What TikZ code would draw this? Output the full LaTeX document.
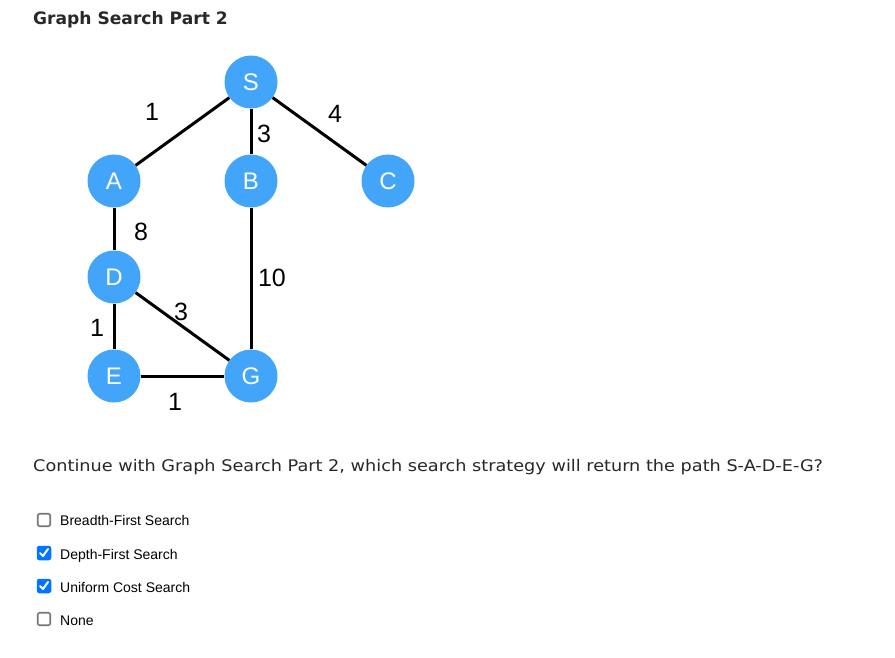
\documentclass[tikz,border=0pt]{standalone}
\usepackage{fontspec}
\setmainfont{Liberation Sans}
\newfontfamily\verdanafont[FakeStretch=1.105]{DejaVu Sans}
\newfontfamily\verdanabold{DejaVu Sans Bold}
\usetikzlibrary{positioning,calc}
\definecolor{NodeBlue}{RGB}{66,165,250}
\definecolor{DarkText}{RGB}{40,40,40}
\definecolor{BoxGray}{RGB}{118,118,118}
\definecolor{CheckBlue}{RGB}{0,117,255}
\tikzset{
  vertex/.style={circle,fill=NodeBlue,minimum size=53pt,inner sep=0pt,
                 text=white,font=\fontsize{24}{24}\selectfont},
  edge/.style={line width=3pt,black},
  wlabel/.style={font=\fontsize{25}{25}\selectfont,inner sep=0pt,midway},
  optbox/.style={draw=BoxGray,line width=1.6pt,rounded corners=2pt,
                 minimum size=12.5pt,inner sep=0pt},
  optboxchecked/.style={fill=CheckBlue,rounded corners=2.5pt,
                 minimum size=14.5pt,inner sep=0pt},
  optlabel/.style={anchor=base west,font=\fontsize{14}{14}\selectfont,inner sep=0pt},
  tickmark/.style={white,line width=2pt,line cap=round,line join=round},
}

\begin{document}
\begin{tikzpicture}[x=1pt,y=-1pt]
    \useasboundingbox[fill=white] (0,0) rectangle (895,658);

    % Title and question
    \node[anchor=base west,inner sep=0pt,text=DarkText,font=\verdanabold\fontsize{17.1}{20}\selectfont] (title) at (33,25) {Graph Search Part 2};
    \node[anchor=base west,inner sep=0pt,text=DarkText,font=\verdanafont\fontsize{16}{20}\selectfont] (question) at (33,471) {Continue with Graph Search Part 2, which search strategy will return the path S-A-D-E-G?};

    % Node definitions
    \node[vertex] (S) at (251,82) {S};
    \node[vertex] (A) at (114,181) {A};
    \node[vertex] (B) at (251,181) {B};
    \node[vertex] (C) at (388,181) {C};
    \node[vertex] (D) at (114,277) {D};
    \node[vertex] (E) at (114,376) {E};
    \node[vertex] (G) at (251,376) {G};

    % Edges
    \draw[edge] (S) -- node[wlabel,xshift=-30.5pt,yshift=19.5pt] {1} (A);
    \draw[edge] (S) -- node[wlabel,xshift=13pt,yshift=-2.5pt] {3} (B);
    \draw[edge] (S) -- node[wlabel,xshift=15.5pt,yshift=17.5pt] {4} (C);
    \draw[edge] (A) -- node[wlabel,xshift=27pt,yshift=-2.5pt] {8} (D);
    \draw[edge] (B) -- node[wlabel,xshift=21pt,yshift=0.5pt] {10} (G);
    \draw[edge] (D) -- node[wlabel,xshift=-1.5pt,yshift=15pt] {3} (G);
    \draw[edge] (D) -- node[wlabel,xshift=-17pt,yshift=-1pt] {1} (E);
    \draw[edge] (E) -- node[wlabel,xshift=-7.5pt,yshift=-26pt] {1} (G);

    % Options
    \node[optbox] (box1) at (44,520) {};
    \node[optboxchecked] (box2) at (44,553) {};
    \node[optboxchecked] (box3) at (44,586) {};
    \node[optbox] (box4) at (44,619) {};
    \draw[tickmark] ($(box2.center)+(-4,0)$) -- ++(3,3) -- ++(5,-7);
    \draw[tickmark] ($(box3.center)+(-4,0)$) -- ++(3,3) -- ++(5,-7);
    \node[optlabel] (opt1) at (60,525.5) {Breadth-First Search};
    \node[optlabel] (opt2) at (60,559) {Depth-First Search};
    \node[optlabel] (opt3) at (60,592) {Uniform Cost Search};
    \node[optlabel] (opt4) at (60,625) {None};
\end{tikzpicture}
\end{document}
